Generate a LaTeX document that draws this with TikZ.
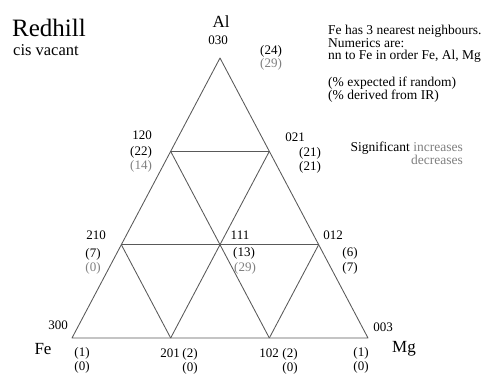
\documentclass[tikz,border=0pt]{standalone}
\usepackage{fontspec}
\setmainfont{Liberation Serif}
\usetikzlibrary{calc}
\definecolor{lt}{gray}{0.5}
\definecolor{ln}{gray}{0.35}
\begin{document}
\begin{tikzpicture}[x=1pt,y=-1pt,
  lab/.style={inner sep=0pt,anchor=base,font=\fontsize{13}{13}\selectfont},
  leg/.style={inner sep=0pt,anchor=base west,font=\fontsize{13.5}{13.5}\selectfont},
  gry/.style={lab,text=lt},
  big/.style={inner sep=0pt,anchor=base,font=\fontsize{17}{17}\selectfont},
  edge/.style={draw=ln,line width=0.85pt,line join=round}]
\useasboundingbox[fill=white] (0,0) rectangle (484,379);
% grid points
\coordinate (v300) at (72,338);
\coordinate (v003) at (368,338);
\coordinate (v030) at (220,58);
\coordinate (v201) at ($(v300)!1/3!(v003)$);
\coordinate (v102) at ($(v300)!2/3!(v003)$);
\coordinate (v210) at ($(v300)!1/3!(v030)$);
\coordinate (v120) at ($(v300)!2/3!(v030)$);
\coordinate (v012) at ($(v003)!1/3!(v030)$);
\coordinate (v021) at ($(v003)!2/3!(v030)$);
\coordinate (v111) at ($(v210)!1/2!(v012)$);
% edges
\draw[edge] (v300) -- (v003) -- (v030) -- cycle;
\draw[edge] (v210) -- (v012);
\draw[edge] (v120) -- (v021);
\draw[edge] (v120) -- (v102);
\draw[edge] (v021) -- (v201);
\draw[edge] (v210) -- (v201);
\draw[edge] (v012) -- (v102);
% titles
\node[inner sep=0pt,anchor=base west,font=\fontsize{25}{25}\selectfont] (title) at (12,37) {Redhill};
\node[inner sep=0pt,anchor=base west,font=\fontsize{16.5}{16.5}\selectfont] (sub) at (13,56) {cis vacant};
% legend
\node[leg] (t1) at (328,35) {Fe has 3 nearest neighbours.};
\node[leg] (t2) at (328,47.5) {Numerics are:};
\node[leg] (t3) at (328,60) {nn to Fe in order Fe, Al, Mg};
\node[leg] (t4) at (328,87) {(\% expected if random)};
\node[leg] (t5) at (328,99.5) {(\% derived from IR)};
\node[leg,anchor=base east] (t6) at (463,152) {Significant \textcolor{lt}{increases}};
\node[leg,anchor=base east,text=lt] (t7) at (463,165) {decreases};
% corner labels
\node[big] (al) at (221,28) {Al};
\node[big] (fe) at (43,354) {Fe};
\node[big] (mg) at (404,352) {Mg};
% 030
\node[lab] (n030) at (218,45) {030};
\node[lab] (p030a) at (271,55) {(24)};
\node[gry] (p030b) at (271,68) {(29)};
% 120
\node[lab] (n120) at (142,140) {120};
\node[lab] (p120a) at (141,156) {(22)};
\node[gry] (p120b) at (141,170) {(14)};
% 021
\node[lab] (n021) at (295,142) {021};
\node[lab] (p021a) at (310,157) {(21)};
\node[lab] (p021b) at (310,171) {(21)};
% 210
\node[lab] (n210) at (96,240) {210};
\node[lab] (p210a) at (93,257) {(7)};
\node[gry] (p210b) at (93,271) {(0)};
% 111
\node[lab] (n111) at (240,240) {111};
\node[lab] (p111a) at (244,256) {(13)};
\node[gry] (p111b) at (245,271) {(29)};
% 012
\node[lab] (n012) at (333,240) {012};
\node[lab] (p012a) at (350,256) {(6)};
\node[lab] (p012b) at (350,271) {(7)};
% 300
\node[lab] (n300) at (58,329) {300};
\node[lab] (p300a) at (82,356) {(1)};
\node[lab] (p300b) at (82,370) {(0)};
% 201
\node[lab] (n201) at (170,357) {201};
\node[lab] (p201a) at (190,357) {(2)};
\node[lab] (p201b) at (190,371) {(0)};
% 102
\node[lab] (n102) at (269,357) {102};
\node[lab] (p102a) at (290,357) {(2)};
\node[lab] (p102b) at (290,371) {(0)};
% 003
\node[lab] (n003) at (383,331) {003};
\node[lab] (p003a) at (361,356) {(1)};
\node[lab] (p003b) at (361,370) {(0)};
\end{tikzpicture}
\end{document}
